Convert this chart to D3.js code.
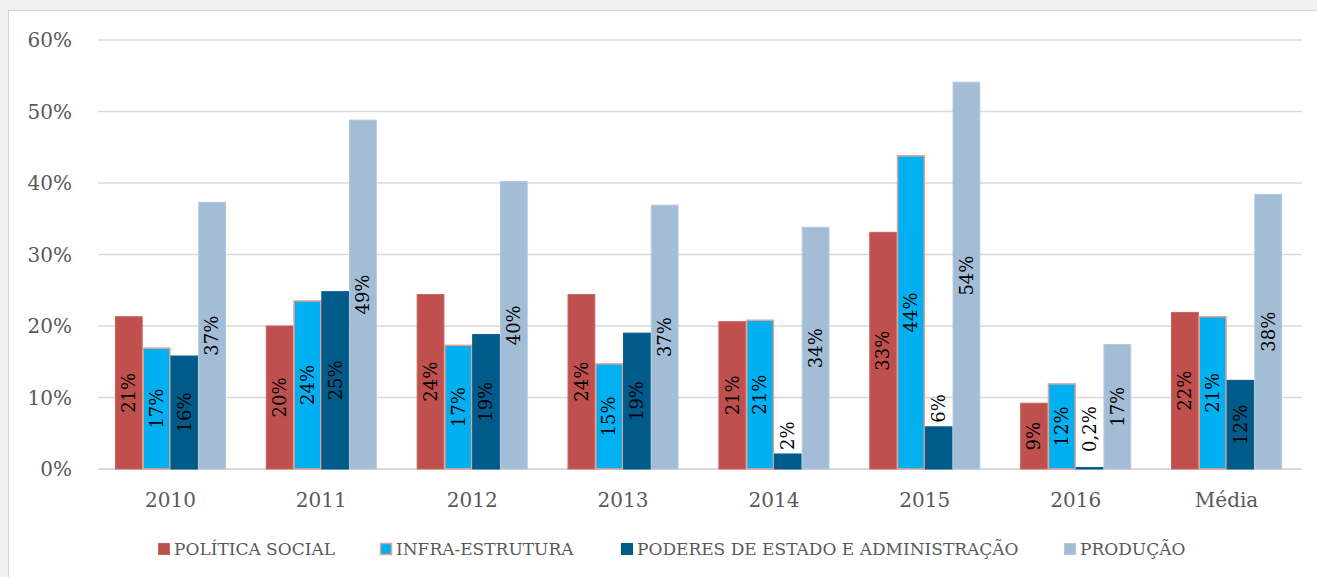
<!DOCTYPE html>
<html>
<head>
    <meta charset="utf-8">
    <script src="https://d3js.org/d3.v7.min.js" charset="utf-8"></script>
    <style>
        body { margin: 0; background: #f0f0f0; }
        svg { display: block; }
    </style>
</head>
<body>
    <div id="chart_container"></div>
    <script>
        // chart data
        const categories = ['2010', '2011', '2012', '2013', '2014', '2015', '2016', 'Média'];
        const seriesNames = ['POLÍTICA SOCIAL', 'INFRA-ESTRUTURA', 'PODERES DE ESTADO E ADMINISTRAÇÃO', 'PRODUÇÃO'];
        const politicaSocial = [21.3, 20.0, 24.4, 24.4, 20.6, 33.1, 9.2, 21.9];
        const infraEstrutura = [16.9, 23.5, 17.3, 14.7, 20.8, 43.8, 11.9, 21.3];
        const poderesEstado = [15.8, 24.8, 18.8, 19.0, 2.1, 5.9, 0.2, 12.4];
        const producao = [37.3, 48.8, 40.2, 36.9, 33.8, 54.1, 17.4, 38.4];
        const yTicks = [0, 10, 20, 30, 40, 50, 60];

        const seriesValues = [politicaSocial, infraEstrutura, poderesEstado, producao];
        const colors = ['#c0504d', '#00b0f0', '#005b8a', '#a3bdd7'];
        const strokes = ['#c8625e', '#e8a093', '#005b8a', '#b1c8de'];

        var width = 1317,
            height = 577;

        var plotRight = 1302;

        const svg = d3.select('#chart_container')
            .append('svg')
            .attr('width', width)
            .attr('height', height);

        // chart box
        svg.append('rect')
            .attr('x', 8.5).attr('y', 10.5)
            .attr('width', width).attr('height', height)
            .attr('fill', '#fff')
            .attr('stroke', '#d4d4d4');

        const y = d3.scaleLinear().domain([0, 60]).range([469, 40]);
        const x0 = d3.scaleBand().domain(categories).range([95, plotRight])
            .paddingInner(0.264).paddingOuter(0.132);
        const x1 = d3.scaleBand().domain(d3.range(seriesNames.length)).range([0, x0.bandwidth()]);

        const fmt = v => v < 1 ? d3.format('.1f')(v).replace('.', ',') + '%' : Math.round(v) + '%';

        // gridlines
        svg.append('g').selectAll('line')
            .data(yTicks)
            .join('line')
            .attr('x1', 98).attr('x2', plotRight)
            .attr('y1', d => y(d)).attr('y2', d => y(d))
            .attr('stroke', '#d9d9d9')
            .attr('stroke-width', d => d === 0 ? 2 : 1.5);

        // y tick labels
        svg.append('g').selectAll('text')
            .data(yTicks)
            .join('text')
            .attr('x', 72).attr('y', d => y(d))
            .attr('dy', '0.35em')
            .attr('text-anchor', 'end')
            .attr('fill', '#595959')
            .style('font', '20px "DejaVu Serif"')
            .text(d => d + '%');

        // bars
        const rows = [];
        categories.forEach((c, i) => {
            seriesValues.forEach((vals, s) => rows.push({ cat: c, s: s, v: vals[i] }));
        });

        const groups = svg.append('g');
        groups.selectAll('rect')
            .data(rows)
            .join('rect')
            .attr('x', d => x0(d.cat) + x1(d.s) + 0.5)
            .attr('y', d => y(d.v))
            .attr('width', x1.bandwidth() - 1)
            .attr('height', d => y(0) - y(d.v))
            .attr('fill', d => colors[d.s])
            .attr('stroke', d => strokes[d.s])
            .attr('stroke-width', d => d.s === 1 ? 1.5 : 1);

        // data labels, rotated; centred in the bar, or above it when it does not fit
        groups.selectAll('text')
            .data(rows)
            .join('text')
            .attr('text-anchor', 'middle')
            .attr('dy', '0.35em')
            .attr('fill', '#000')
            .style('font', '18px "DejaVu Serif"')
            .text(d => fmt(d.v))
            .attr('transform', function (d) {
                const cx = x0(d.cat) + x1(d.s) + x1.bandwidth() / 2;
                const len = this.getComputedTextLength();
                const top = y(d.v), base = y(0);
                let cy = (top + base) / 2;
                if (base - top < len + 16) cy = Math.min(top - len / 2 - 4, base - 17 - len / 2);
                return 'translate(' + cx + ',' + cy + ') rotate(-90)';
            });

        // x axis labels
        svg.append('g').selectAll('text')
            .data(categories)
            .join('text')
            .attr('x', d => x0(d) + x0.bandwidth() / 2)
            .attr('y', 507)
            .attr('text-anchor', 'middle')
            .attr('fill', '#595959')
            .style('font', '20px "DejaVu Serif"')
            .text(d => d);

        // legend
        const legendX = [158, 380, 621, 1064];
        const legend = svg.append('g').selectAll('g')
            .data(seriesNames)
            .join('g')
            .attr('transform', (d, i) => 'translate(' + legendX[i] + ',549)');
        legend.append('rect')
            .attr('x', 0.5).attr('y', -5.5)
            .attr('width', 11).attr('height', 11)
            .attr('fill', (d, i) => colors[i])
            .attr('stroke', (d, i) => strokes[i])
            .attr('stroke-width', (d, i) => i === 1 ? 1.5 : 1);
        legend.append('text')
            .attr('x', 16).attr('dy', '0.35em')
            .attr('fill', '#595959')
            .style('font', '17px "DejaVu Serif"')
            .text(d => d);
    </script>
</body>
</html>
